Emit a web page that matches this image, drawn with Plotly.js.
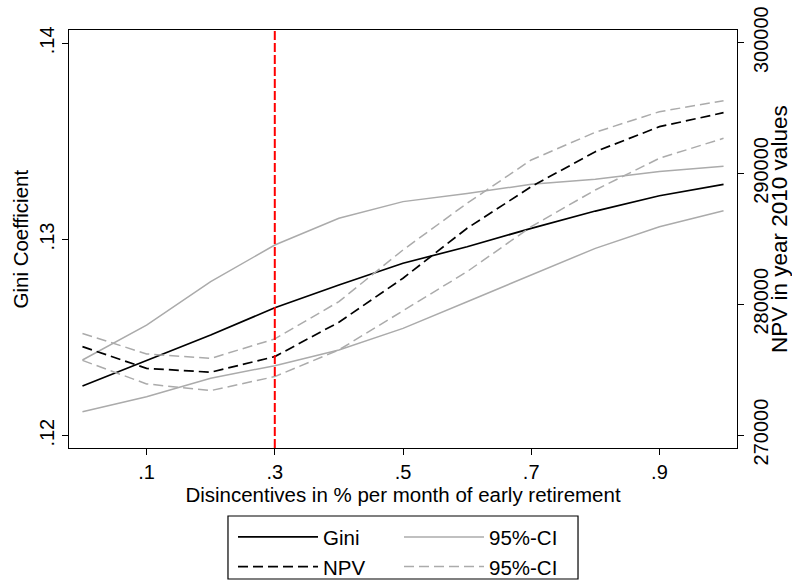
<!DOCTYPE html>
<html><head><meta charset="utf-8">
<script src="https://cdn.plot.ly/plotly-3.0.1.min.js"></script>
<style>html,body{margin:0;padding:0;background:#fff}#chart{width:792px;height:583px}</style>
</head><body><div id="chart"></div>
<script>
const disincentive = [0, 0.1, 0.2, 0.3, 0.4, 0.5, 0.6, 0.7, 0.8, 0.9, 1.0];
const gini      = [0.12253, 0.12382, 0.12513, 0.12652, 0.12768, 0.12879, 0.12963, 0.13057, 0.13145, 0.13223, 0.13281];
const giniUpper = [0.12386, 0.12564, 0.12785, 0.12972, 0.13108, 0.13193, 0.13235, 0.13281, 0.13307, 0.13346, 0.13373];
const giniLower = [0.12122, 0.12199, 0.12293, 0.12357, 0.12437, 0.12547, 0.12683, 0.12819, 0.12955, 0.13065, 0.13147];
const npv       = [276759, 275093, 274802, 275995, 278625, 281988, 285811, 288991, 291667, 293578, 294648];
const npvUpper  = [277768, 276201, 275857, 277348, 280199, 284152, 287722, 291032, 293150, 294725, 295566];
const npvLower  = [275704, 273908, 273395, 274466, 276507, 279488, 282493, 285933, 288739, 291162, 292691];
const xTickVals = [0.1, 0.3, 0.5, 0.7, 0.9];
const xTickText = ['.1', '.3', '.5', '.7', '.9'];
const giniTickVals = [0.12, 0.13, 0.14];
const giniTickText = ['.12', '.13', '.14'];
const npvTickVals = [270000, 280000, 290000, 300000];
const npvTickText = ['270000', '280000', '290000', '300000'];
const referenceX = 0.3;
const xTitle = 'Disincentives in % per month of early retirement';
const giniTitle = 'Gini Coefficient';
const npvTitle = 'NPV in year 2010 values';

const FONT = 'Liberation Sans, Arial, Helvetica, sans-serif';
const GRAY = '#ababab';
const TICKSIZE = 20;
const TITLESIZE = 20.5;

function tr(y, name, color, dash, width, yaxis, legend, show, rank) {
  return {x: disincentive, y: y, name: name, type: 'scatter', mode: 'lines',
    line: {color: color, dash: dash, width: width}, yaxis: yaxis,
    legend: legend, showlegend: show, legendrank: rank, hoverinfo: 'skip'};
}
const traces = [
  tr(giniUpper, '95%-CI', GRAY, 'solid', 1.5, 'y', 'legend2', true, 1),
  tr(giniLower, '95%-CI', GRAY, 'solid', 1.5, 'y', 'legend2', false, 3),
  tr(npvUpper, '95%-CI', GRAY, '10px,5px', 1.5, 'y2', 'legend2', true, 2),
  tr(npvLower, '95%-CI', GRAY, '10px,5px', 1.5, 'y2', 'legend2', false, 4),
  tr(gini, 'Gini', '#000', 'solid', 1.7, 'y', 'legend', true, 1),
  tr(npv, 'NPV', '#000', '10px,5px', 1.7, 'y2', 'legend', true, 2)
];

const axisCommon = {showgrid: false, zeroline: false, showline: true, linecolor: '#000', linewidth: 1.2,
  automargin: false, ticks: 'outside', ticklen: 6, tickwidth: 1, tickcolor: '#000',
  tickfont: {family: FONT, size: TICKSIZE, color: '#000'}};

const legendCommon = {xref: 'container', yref: 'container', xanchor: 'left', yanchor: 'top',
  orientation: 'v', itemwidth: 80, font: {family: FONT, size: TITLESIZE, color: '#000'},
  bgcolor: 'rgba(0,0,0,0)', tracegroupgap: 0};

const layout = {
  width: 792, height: 583,
  paper_bgcolor: '#fff', plot_bgcolor: '#fff',
  margin: {l: 69, r: 55, t: 30, b: 135, autoexpand: false},
  font: {family: FONT, size: TICKSIZE, color: '#000'},
  xaxis: Object.assign({}, axisCommon, {range: [-0.021, 1.021], tickvals: xTickVals, ticktext: xTickText,
    mirror: true, title: {text: xTitle, font: {family: FONT, size: TITLESIZE}, standoff: 4}}),
  yaxis: Object.assign({}, axisCommon, {range: [0.119373, 0.140678], tickvals: giniTickVals, ticktext: giniTickText,
    tickangle: -90, mirror: true}),
  yaxis2: Object.assign({}, axisCommon, {range: [269006, 300971], tickvals: npvTickVals, ticktext: npvTickText,
    tickangle: -90, overlaying: 'y', side: 'right'}),
  legend: Object.assign({}, legendCommon, {x: 0.2942, y: 0.113}),
  legend2: Object.assign({}, legendCommon, {x: 0.5038, y: 0.113}),
  annotations: [
    {text: giniTitle, xref: 'paper', yref: 'paper', x: -0.0741, y: 0.5, xanchor: 'center', yanchor: 'middle',
     textangle: -90, showarrow: false, font: {family: FONT, size: TITLESIZE, color: '#000'}},
    {text: npvTitle, xref: 'paper', yref: 'paper', x: 1.0644, y: 0.524, xanchor: 'center', yanchor: 'middle',
     textangle: -90, showarrow: false, font: {family: FONT, size: 22.5, color: '#000'}}
  ],
  shapes: [
    {type: 'line', xref: 'x', yref: 'paper', x0: referenceX, x1: referenceX, y0: 0, y1: 1,
     line: {color: '#ff0000', width: 2, dash: '9px,3px'}},
    {type: 'rect', xref: 'paper', yref: 'paper', x0: 0.238, x1: 0.762, y0: -0.1627, y1: -0.3134,
     line: {color: '#000', width: 1.2}, fillcolor: 'rgba(0,0,0,0)'}
  ]
};

Plotly.newPlot('chart', traces, layout, {staticPlot: true, displayModeBar: false});
</script>
</body></html>
